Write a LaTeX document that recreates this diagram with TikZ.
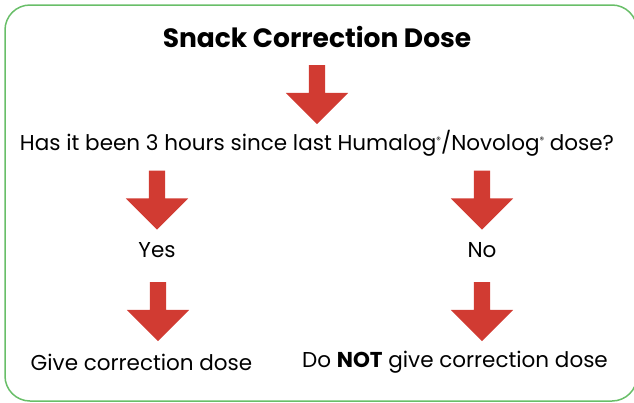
\documentclass[tikz,border=0pt]{standalone}
\usepackage{fontspec}
\setmainfont{Poppins}
\usetikzlibrary{shapes.arrows, positioning}
\definecolor{arrowred}{RGB}{209,59,50}
\definecolor{boxgreen}{RGB}{104,190,104}
\newcommand{\regmark}{\raisebox{0.6ex}{\fontsize{9}{9}\selectfont ®}}

\begin{document}
\begin{tikzpicture}[x=1pt, y=-1pt,
  txt/.style = {font=\fontsize{21.5}{21.5}\selectfont, inner sep=0pt},
  down/.style = {single arrow, fill=arrowred, draw=none, shape border rotate=270,
                 minimum height=59pt, minimum width=0pt, single arrow head extend=23pt,
                 inner sep=8pt}]
  \clip (0,0) rectangle (634,402);
  \draw[boxgreen, line width=1.5pt, rounded corners=25pt] (5,5) rectangle (637,401);

  \node[txt, font=\fontsize{26.5}{26.5}\selectfont\bfseries] (title) at (317,37) {Snack Correction Dose};
  \node[down] (a1) at (317,90.5) {};
  \node[txt] (ques) at (317,143) {Has it been 3 hours since last Humalog\regmark/Novolog\regmark{} dose?};

  \node[down] (a2) at (157,196) {};
  \node[down] (a3) at (482,196) {};
  \node[txt] (yes) at (157,250) {Yes};
  \node[txt] (no)  at (482,250) {No};

  \node[down] (a4) at (158,307.5) {};
  \node[down] (a5) at (482,307.5) {};
  \node[txt] (give) at (141.5,362) {Give correction dose};
  \node[txt] (dont) at (455,362) {Do \textbf{NOT} give correction dose};
\end{tikzpicture}
\end{document}
